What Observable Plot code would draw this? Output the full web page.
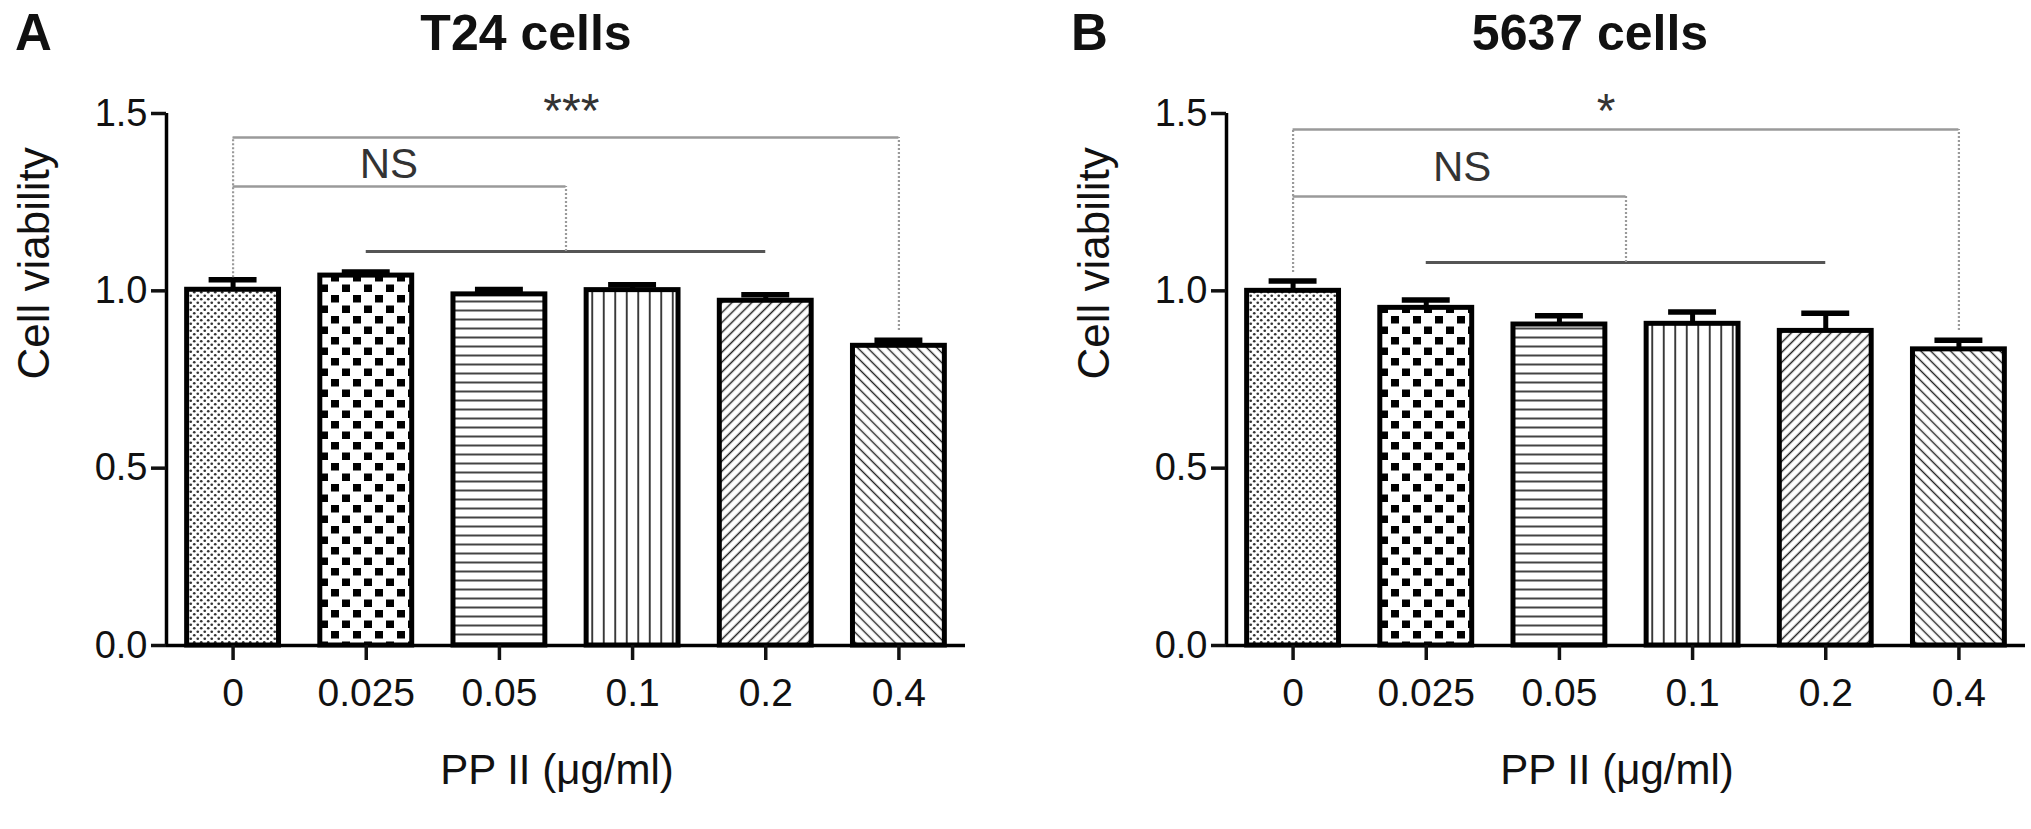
<!DOCTYPE html>
<html>
<head>
<meta charset="utf-8">
<script src="https://cdn.jsdelivr.net/npm/d3@7"></script>
<script src="https://cdn.jsdelivr.net/npm/@observablehq/plot@0.6"></script>
<style>
  html, body { margin: 0; padding: 0; background: #fff; overflow: hidden; }
  #wrap { position: relative; width: 2031px; height: 829px; background: #fff;
          font-family: "Liberation Sans", Arial, Helvetica, sans-serif; color: #111; }
  .panel { position: absolute; top: 0; }
  .title { position: absolute; font-weight: bold; font-size: 50px; line-height: 50px; white-space: nowrap; text-align: center; width: 600px; }
  .letter { position: absolute; font-weight: bold; font-size: 51px; line-height: 50px; }
</style>
</head>
<body>
<svg width="0" height="0" style="position:absolute">
  <defs>
    <pattern id="pat0" patternUnits="userSpaceOnUse" width="7" height="7">
      <rect width="7" height="7" fill="#fff"/>
      <circle cx="1.75" cy="1.75" r="1.35" fill="#333"/>
      <circle cx="5.25" cy="5.25" r="1.35" fill="#333"/>
    </pattern>
    <pattern id="pat1" patternUnits="userSpaceOnUse" width="22" height="21">
      <rect width="22" height="21" fill="#fff"/>
      <rect x="1" y="1" width="8" height="7.5" fill="#000"/>
      <rect x="12" y="11.5" width="8" height="7.5" fill="#000"/>
    </pattern>
    <pattern id="pat2" patternUnits="userSpaceOnUse" width="10" height="9">
      <rect width="10" height="9" fill="#fff"/>
      <line x1="0" y1="4.5" x2="10" y2="4.5" stroke="#444" stroke-width="2"/>
    </pattern>
    <pattern id="pat3" patternUnits="userSpaceOnUse" width="11.5" height="10">
      <rect width="11.5" height="10" fill="#fff"/>
      <line x1="5.75" y1="0" x2="5.75" y2="10" stroke="#111" stroke-width="1.6"/>
    </pattern>
    <pattern id="pat4" patternUnits="userSpaceOnUse" width="7" height="7" patternTransform="rotate(45)">
      <rect width="7" height="7" fill="#fff"/>
      <line x1="3.5" y1="0" x2="3.5" y2="7" stroke="#222" stroke-width="1.5"/>
    </pattern>
    <pattern id="pat5" patternUnits="userSpaceOnUse" width="7" height="7" patternTransform="rotate(-45)">
      <rect width="7" height="7" fill="#fff"/>
      <line x1="3.5" y1="0" x2="3.5" y2="7" stroke="#222" stroke-width="1.4"/>
    </pattern>
  </defs>
</svg>
<div id="wrap">
  <div class="letter" style="left:15px;top:8px">A</div>
  <div class="letter" style="left:1071px;top:8px">B</div>
  <div class="title" style="left:226px;top:8px">T24 cells</div>
  <div class="title" style="left:1290px;top:8px">5637 cells</div>
  <div class="panel" id="panelA" style="left:0px"></div>
  <div class="panel" id="panelB" style="left:1060px"></div>
</div>
<script>
// ---- data ----
const doses = ["0", "0.025", "0.05", "0.1", "0.2", "0.4"];
const t24Mean = [1.003, 1.043, 0.99, 1.002, 0.972, 0.845];
const t24Err  = [0.028, 0.010, 0.014, 0.015, 0.017, 0.016];
const c5637Mean = [1.0, 0.952, 0.905, 0.907, 0.887, 0.835];
const c5637Err  = [0.028, 0.022, 0.025, 0.033, 0.050, 0.026];
const yTicks = [0, 0.5, 1.0, 1.5];
const yDomain = [0, 1.5];

// significance annotations (data units): [outer bracket, NS bracket, NS base line]
const t24Levels = [1.432, 1.294, 1.111];
const c5637Levels = [1.455, 1.266, 1.08];
// bottom ends of the outer bracket's dotted legs: [at first dose, at last dose]
const t24Feet = [1.037, 0.888];
const c5637Feet = [1.052, 0.888];
// doses grouped under the NS base line (first, last)
const nsGroup = ["0.025", "0.2"];
const t24Stars = "***";
const c5637Stars = "*";
// label anchor positions [x index, y value]
const t24StarPos = [2.54, 1.505];
const c5637StarPos = [2.35, 1.505];
const t24NsPos = [1.17, 1.357];
const c5637NsPos = [1.27, 1.347];

const xLabel = "PP II (μg/ml)";
const yLabel = "Cell viability";

function panel(mean, err, levels, feet, stars, starPos, nsPos, width, marginRight) {
  const data = doses.map((d, i) => ({i, d, v: mean[i], e: err[i]}));
  const first = 0, last = doses.length - 1;
  const g0 = doses.indexOf(nsGroup[0]), g1 = doses.indexOf(nsGroup[1]);
  const mid = (g0 + g1) / 2;
  const xDomain = [-0.5, doses.length - 0.5];
  const halfBar = 0.345, halfCap = 0.18;
  const grayLine = "#9a9a9a";

  const marks = [];
  // bars with patterns
  data.forEach((row, i) => {
    marks.push(Plot.rectY([row], {
      x1: r => r.i - halfBar, x2: r => r.i + halfBar, y1: 0, y2: "v",
      fill: `url(#pat${i})`, stroke: "#000", strokeWidth: 5
    }));
  });
  // error bars (upper)
  marks.push(Plot.ruleX(data, {x: "i", y1: "v", y2: r => r.v + r.e, stroke: "#000", strokeWidth: 5}));
  marks.push(Plot.ruleY(data, {x1: r => r.i - halfCap, x2: r => r.i + halfCap, y: r => r.v + r.e, stroke: "#000", strokeWidth: 5.5}));

  // axes
  marks.push(Plot.ruleY([yDomain[0]], {stroke: "#000", strokeWidth: 3.5}));
  marks.push(Plot.ruleX([xDomain[0]], {y1: yDomain[0], y2: yDomain[1], stroke: "#000", strokeWidth: 3.5}));
  marks.push(Plot.axisY({ticks: yTicks, tickFormat: d3.format(".1f"), tickSize: 15, tickPadding: 4,
                         strokeWidth: 3.5, label: null, fontSize: 38}));
  marks.push(Plot.axisX({ticks: d3.range(doses.length), tickFormat: i => doses[i], tickSize: 15,
                         tickPadding: 18, strokeWidth: 3.5, label: null, fontSize: 39}));

  // brackets
  marks.push(Plot.ruleY([levels[0]], {x1: first, x2: last, stroke: grayLine, strokeWidth: 2.5}));
  marks.push(Plot.ruleY([levels[1]], {x1: first, x2: mid, stroke: grayLine, strokeWidth: 2.5}));
  marks.push(Plot.ruleY([levels[2]], {x1: g0, x2: g1, stroke: "#555", strokeWidth: 3}));
  marks.push(Plot.ruleX([first], {y1: feet[0], y2: levels[0], stroke: grayLine, strokeWidth: 2.2, strokeDasharray: "2,2"}));
  marks.push(Plot.ruleX([last], {y1: feet[1], y2: levels[0], stroke: grayLine, strokeWidth: 2.2, strokeDasharray: "2,2"}));
  marks.push(Plot.ruleX([mid], {y1: levels[2], y2: levels[1], stroke: grayLine, strokeWidth: 2.2, strokeDasharray: "2,2"}));

  // annotation text
  marks.push(Plot.text([stars], {x: [starPos[0]], y: [starPos[1]], text: d => d, fontSize: 48, fill: "#333"}));
  marks.push(Plot.text(["NS"], {x: [nsPos[0]], y: [nsPos[1]], text: d => d, fontSize: 42, fill: "#333"}));

  // axis titles
  marks.push(Plot.text([yLabel], {frameAnchor: "left", text: d => d, rotate: -90, dx: -132, fontSize: 44, fill: "#111"}));
  marks.push(Plot.text([xLabel], {frameAnchor: "bottom", text: d => d, dy: 138, dx: -9, fontSize: 42, fill: "#111"}));

  return Plot.plot({
    width, height: 829,
    marginLeft: 166, marginRight, marginTop: 113, marginBottom: 184,
    x: {type: "linear", domain: xDomain},
    y: {domain: yDomain},
    style: {fontFamily: "'Liberation Sans', Arial, Helvetica, sans-serif", fontSize: "38px",
            color: "#111", background: "transparent", overflow: "visible"},
    marks
  });
}

document.getElementById("panelA").append(
  panel(t24Mean, t24Err, t24Levels, t24Feet, t24Stars, t24StarPos, t24NsPos, 1015, 50));
document.getElementById("panelB").append(
  panel(c5637Mean, c5637Err, c5637Levels, c5637Feet, c5637Stars, c5637StarPos, c5637NsPos, 971, 6));
</script>
</body>
</html>
